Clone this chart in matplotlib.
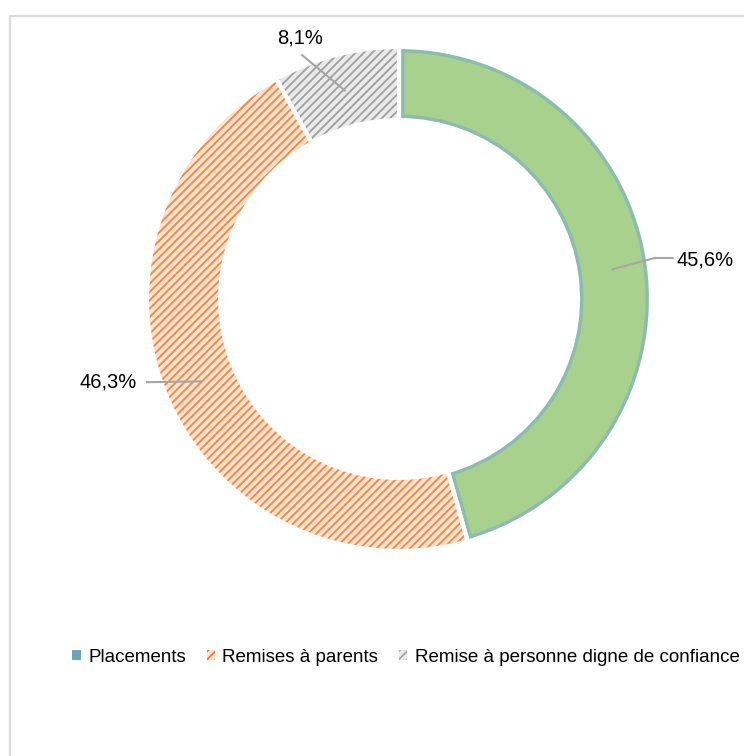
import matplotlib
matplotlib.use("Agg")
import matplotlib.pyplot as plt
from matplotlib.patches import Rectangle
import numpy as np

categories = ["Placements", "Remises à parents", "Remise à personne digne de confiance"]
values = [45.6, 46.3, 8.1]
labels = ["45,6%", "46,3%", "8,1%"]

base_colors = ["#A9D18E", "#FCE1CE", "#EAEAEA"]
hatch_colors = [None, "#F0873F", "#A0A0A0"]
legend_colors = ["#6BA6BD", "#ED7D31", "#A5A5A5"]

plt.rcParams['font.family'] = ['Liberation Sans', 'DejaVu Sans']
plt.rcParams['hatch.linewidth'] = 1.3

W, H = 744, 756
fig = plt.figure(figsize=(W / 100, H / 100), dpi=100)
ax = fig.add_axes([0, 0, 1, 1])

cx, cy, R = 399, 299, 252
ring = 0.29

common = dict(startangle=90, counterclock=False, radius=1.0)

# base fill
w_base, _ = ax.pie(values, colors=base_colors,
                   wedgeprops=dict(width=ring, linewidth=0), **common)
# green edge shading / hatches
w_edge, _ = ax.pie(values, colors=['none'] * 3,
                   wedgeprops=dict(width=ring, linewidth=0), **common)
for i, w in enumerate(w_edge):
    w.set_facecolor('none')
    if i == 0:
        w.set_edgecolor("#8CBCAE")
        w.set_linewidth(8)
        w.set_clip_path(w_base[0])
        w.set_clip_on(True)
    else:
        w.set_edgecolor(hatch_colors[i])
        w.set_hatch('////')
        w.set_linewidth(0)
# white separators
ax.pie(values, colors=['none'] * 3,
       wedgeprops=dict(width=ring, linewidth=3, edgecolor='white'), **common)

# labels with leader lines
angles = []
start = 90.0
total = sum(values)
for v in values:
    span = 360.0 * v / total
    angles.append(np.deg2rad(start - span / 2))
    start -= span

rmid = 1 - ring / 2
label_specs = [
    dict(elbow=(1.016, 0.163), text=(1.10, 0.153), ha='left'),
    dict(elbow=(-1.0, -0.33), text=(-1.04, -0.33), ha='right'),
    dict(elbow=(-0.385, 0.968), text=(-0.393, 1.036), ha='center'),
]
for a, lab, spec in zip(angles, labels, label_specs):
    p0 = (rmid * np.cos(a), rmid * np.sin(a))
    ex, ey = spec['elbow']
    ax.plot([p0[0], ex], [p0[1], ey], color="#A6A6A6", lw=1.5, zorder=5)
    if spec['ha'] == 'left':
        ax.plot([ex, ex + 0.07], [ey, ey], color="#A6A6A6", lw=1.5, zorder=5)
    tx, ty = spec['text']
    ax.text(tx, ty, lab, ha=spec['ha'], va='center', fontsize=14.5, color="#000000")

ax.set_xlim((0 - cx) / R, (W - cx) / R)
ax.set_ylim((cy - H) / R, cy / R)
ax.set_aspect('auto')
ax.axis('off')

# legend
handles = []
for i, c in enumerate(legend_colors):
    if i == 0:
        handles.append(Rectangle((0, 0), 1, 1, facecolor=c, edgecolor=c, lw=0))
    else:
        handles.append(Rectangle((0, 0), 1, 1, facecolor=base_colors[i], edgecolor=c,
                                 hatch='////', lw=0))
fig.legend(handles, categories, loc='center', bbox_to_anchor=(406 / W, (H - 657) / H),
           ncol=3, frameon=False, fontsize=13.5, handlelength=0.45, handleheight=0.45,
           handletextpad=0.4, columnspacing=1.1, borderaxespad=0)

# chart border
fig.patches.append(Rectangle((9.5 / W, -0.05), 1.1, (H - 16) / H + 0.05,
                             transform=fig.transFigure, fill=False,
                             edgecolor="#D9D9D9", lw=1.5))

fig.savefig("out.png", dpi=100)
